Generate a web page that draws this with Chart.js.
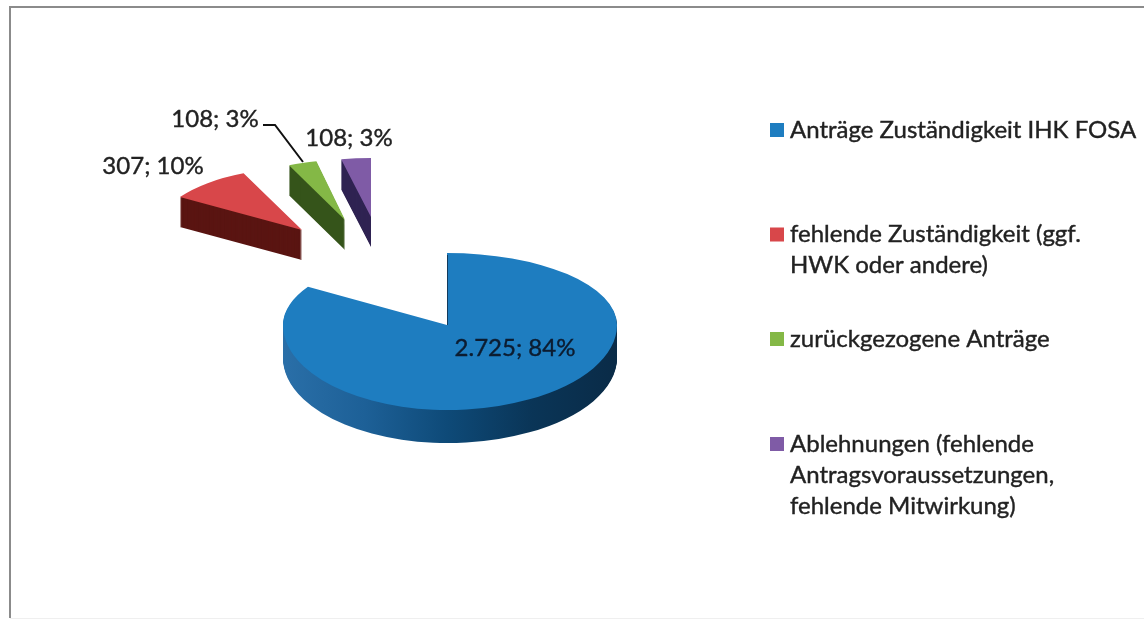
<!DOCTYPE html>
<html><head><meta charset="utf-8">
<style>html,body{margin:0;padding:0;background:#fff}canvas{display:block}</style>
<script src="https://cdn.jsdelivr.net/npm/chart.js@4/dist/chart.umd.min.js"></script>
</head><body><canvas id="c" width="1144" height="621"></canvas>
<script>
const categories = [
  ["Anträge Zuständigkeit IHK FOSA"],
  ["fehlende Zuständigkeit (ggf.", "HWK oder andere)"],
  ["zurückgezogene Anträge"],
  ["Ablehnungen (fehlende", "Antragsvoraussetzungen,", "fehlende Mitwirkung)"]
];
const values = [2725, 307, 108, 108];
const percents = [84, 10, 3, 3];
const topColors = ["#1e7dc0", "#d8474a", "#84b846", "#7f5ba6"];
const sideColors = [null, "#5a1512", "#35541a", "#2f2352"];
const blueSideStops = ["#2a6fa8", "#1d6097", "#0e4a78", "#0a3557", "#0a2b47"];
const explode = [130, 125, 125, 125];
const offsetK = [0.47, 0.44, 0.44, 0.44];
const depth = [33, 30, 30, 30];
const R = 167;
const shapes = [
  {l: 164, r: 170, u: 72, d: 85},
  {l: 144, r: 144, u: 62, d: 62},
  {l: 138, r: 138, u: 60, d: 60},
  {l: 144, r: 144, u: 59, d: 59}
];
const labelPos = [[515, 348], [153, 166], [215, 119], [349, 138]];
const labelColors = ["#0c1c30", "#222", "#222", "#222"];
const leader = [[263, 125], [275, 125], [303, 162]];
const legendX = 790, legendBoxX = 770, legendBox = 14, legendY = [130, 234.5, 339, 444], legendLine = 31;
const FONT = '24px Lato';

function labelText(i) {
  return values[i].toLocaleString('de-DE') + '; ' + percents[i] + '%';
}
function heavyText(ctx, t, x, y, color) {
  ctx.fillStyle = color; ctx.strokeStyle = color; ctx.lineWidth = 0.4;
  ctx.fillText(t, x, y);
  ctx.strokeText(t, x, y);
}

const pie3d = {
  id: 'pie3d',
  beforeDraw(chart) {
    const x = chart.ctx;
    x.save();
    x.fillStyle = '#fff'; x.fillRect(0, 0, 1144, 621);
    x.fillStyle = '#efefef'; x.fillRect(10, 618, 1134, 1);
    x.fillStyle = '#8b8b8b';
    x.fillRect(10, 6, 1134, 2);
    x.fillRect(9, 6, 2, 612);
    x.restore();
  },
  beforeDatasetDraw(chart, args) {
    const ctx = chart.ctx;
    const meta = args.meta;
    const order = [1, 2, 3, 0];
    for (const i of order) {
      const el = meta.data[i];
      const mid = (el.startAngle + el.endAngle) / 2;
      const ax = Math.round(el.x + explode[i] * Math.cos(mid));
      const ay = Math.round(el.y + explode[i] * Math.sin(mid) * offsetK[i]);
      const s = shapes[i];
      const base = el.options;
      let side = sideColors[i];
      if (!side) {
        side = ctx.createLinearGradient(el.x - R, 0, el.x + R, 0);
        blueSideStops.forEach((c, k) => side.addColorStop(k / (blueSideStops.length - 1), c));
      }
      const paint = (dy, color) => {
        el.options = Object.assign({}, base, {backgroundColor: color, borderWidth: 0});
        const quads = [
          [0, 0, ax, ay + dy, s.l, s.u],
          [ax, 0, 1144 - ax, ay + dy, s.r, s.u],
          [0, ay + dy, ax, 621, s.l, s.d],
          [ax, ay + dy, 1144 - ax, 621, s.r, s.d]
        ];
        for (const q of quads) {
          ctx.save();
          ctx.beginPath(); ctx.rect(q[0], q[1], q[2], q[3]); ctx.clip();
          ctx.translate(ax, ay + dy);
          ctx.scale(q[4] / R, q[5] / R);
          ctx.translate(-el.x, -el.y);
          el.draw(ctx);
          ctx.restore();
        }
      };
      for (let d = depth[i]; d >= 1; d--) paint(d, side);
      paint(0, topColors[i]);
      el.options = base;
      if (i === 0) {
        ctx.save();
        ctx.strokeStyle = '#123a5c'; ctx.lineWidth = 1;
        ctx.beginPath(); ctx.moveTo(ax + 0.5, ay); ctx.lineTo(ax + 0.5, ay - s.u + 2); ctx.stroke();
        ctx.restore();
      }
    }
    return false;
  },
  afterDatasetsDraw(chart) {
    const ctx = chart.ctx;
    ctx.save();
    ctx.strokeStyle = '#111'; ctx.lineWidth = 2;
    ctx.beginPath();
    leader.forEach((p, i) => i ? ctx.lineTo(p[0], p[1]) : ctx.moveTo(p[0], p[1]));
    ctx.stroke();
    ctx.font = FONT;
    ctx.textBaseline = 'middle';
    ctx.textAlign = 'center';
    values.forEach((v, i) => heavyText(ctx, labelText(i), labelPos[i][0], labelPos[i][1], labelColors[i]));
    ctx.textAlign = 'left';
    categories.forEach((lines, i) => {
      ctx.fillStyle = topColors[i];
      ctx.fillRect(legendBoxX, legendY[i] - legendBox / 2, legendBox, legendBox);
      lines.forEach((t, k) => heavyText(ctx, t, legendX, legendY[i] + k * legendLine, '#222'));
    });
    ctx.restore();
  }
};

new Chart(document.getElementById('c'), {
  type: 'pie',
  data: {
    labels: categories.map(l => l.join(' ')),
    datasets: [{data: values, backgroundColor: topColors, borderWidth: 0, radius: R}]
  },
  options: {
    responsive: false,
    animation: false,
    layout: {padding: {left: 0, top: 0, right: 376, bottom: 77}},
    plugins: {legend: {display: false}, tooltip: {enabled: false}}
  },
  plugins: [pie3d]
});
</script></body></html>
